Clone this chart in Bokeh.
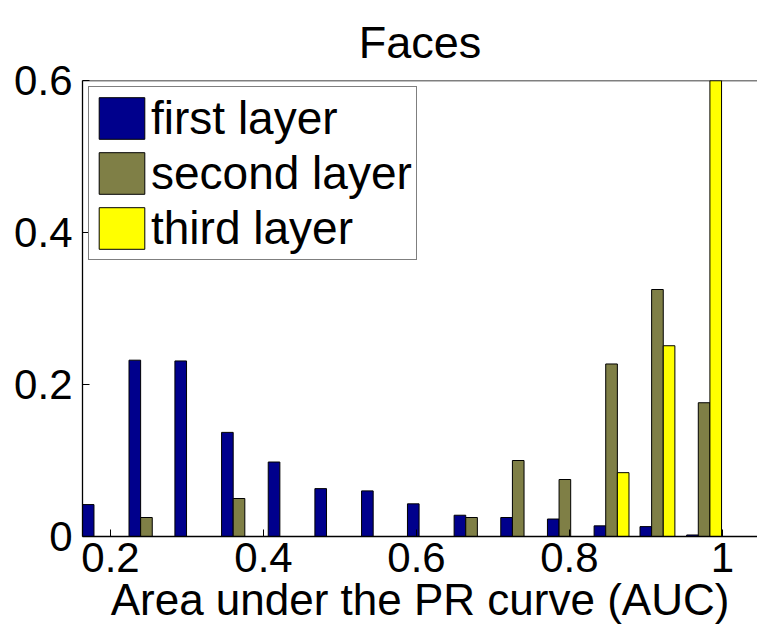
from bokeh.plotting import figure
from bokeh.models import ColumnDataSource, LinearAxis, FixedTicker, Range1d, Span
from bokeh.transform import dodge
from bokeh.embed import file_html
from bokeh.resources import INLINE

# AUC histogram bin centers
bin_centers = [0.186, 0.247, 0.307, 0.368, 0.429, 0.490, 0.551, 0.611,
               0.672, 0.733, 0.794, 0.855, 0.915, 0.976]
first_layer = [0.042, 0.232, 0.231, 0.137, 0.098, 0.063, 0.060, 0.043,
               0.028, 0.025, 0.023, 0.014, 0.013, 0.002]
second_layer = [0.0, 0.025, 0.0, 0.050, 0.0, 0.0, 0.0, 0.0,
                0.025, 0.100, 0.075, 0.227, 0.325, 0.176]
third_layer = [0.0, 0.0, 0.0, 0.0, 0.0, 0.0, 0.0, 0.0,
               0.0, 0.0, 0.0, 0.084, 0.251, 0.650]
series_names = ["first layer", "second layer", "third layer"]
x_ticks = [0.2, 0.4, 0.6, 0.8, 1.0]
y_ticks = [0, 0.2, 0.4, 0.6]
title_text = "Faces"
x_label = "Area under the PR curve (AUC)"

FONT = "Liberation Sans"
colors = ["#00008C", "#7F7F46", "#FFFF00"]

X0, X1 = 0.1634, 1.0458
Y0, Y1 = 0.0, 0.6
src = ColumnDataSource(dict(x=bin_centers, a=first_layer, b=second_layer, c=third_layer))

p = figure(width=757, height=626, output_backend="svg", toolbar_location=None,
           x_range=Range1d(X0, X1), y_range=Range1d(Y0, Y1),
           min_border_left=82, min_border_right=0, min_border_top=80,
           min_border_bottom=86, x_axis_location=None, y_axis_location=None)

p.title.text = title_text
p.title.align = "center"
p.title.text_font = FONT
p.title.text_font_size = "45px"
p.title.text_font_style = "normal"
p.title.text_color = "black"
p.title.text_line_height = 1.6
p.title.standoff = 26

bw = 0.0152
for col, off, color, name in zip(["a", "b", "c"], [-bw, 0, bw], colors, series_names):
    p.vbar(x=dodge("x", off, range=p.x_range), top=col, width=bw, source=src,
           fill_color=color, line_color="black", line_width=1, legend_label=name)

def style_axis(ax):
    ax.major_tick_in = 7
    ax.major_tick_out = 0
    ax.minor_tick_line_color = None
    ax.axis_line_color = "black"
    ax.axis_line_width = 1.3
    ax.major_tick_line_width = 1
    ax.major_label_text_font = FONT
    ax.major_label_text_color = "black"
    ax.major_label_text_font_size = "42px"

bottom = LinearAxis(ticker=FixedTicker(ticks=x_ticks))
style_axis(bottom)
bottom.major_label_standoff = 6
bottom.major_label_overrides = {1.0: "1", 1: "1"}
bottom.axis_label = x_label
bottom.axis_label_text_font = FONT
bottom.axis_label_text_font_size = "44px"
bottom.axis_label_text_font_style = "normal"
bottom.axis_label_text_color = "black"
bottom.axis_label_standoff = 0
p.add_layout(bottom, "below")

left = LinearAxis(ticker=FixedTicker(ticks=y_ticks))
style_axis(left)
left.major_label_standoff = 10
left.major_label_overrides = {0: "0"}
p.add_layout(left, "left")

p.add_layout(Span(location=Y1, dimension="width", line_color="black", line_width=1.3))

p.xgrid.visible = False
p.ygrid.visible = False
p.outline_line_color = None
p.background_fill_color = "white"
p.border_fill_color = "white"

lg = p.legend[0]
lg.location = "top_left"
lg.margin = 6
lg.padding = 4
lg.spacing = 1
lg.glyph_width = 57
lg.glyph_height = 52
lg.label_standoff = 1
lg.label_text_font = FONT
lg.label_text_font_size = "46px"
lg.label_text_color = "black"
lg.border_line_color = "black"
lg.border_line_width = 1.5
lg.background_fill_alpha = 1
lg.background_fill_color = "white"

open("out.html", "w").write(file_html(p, INLINE))
